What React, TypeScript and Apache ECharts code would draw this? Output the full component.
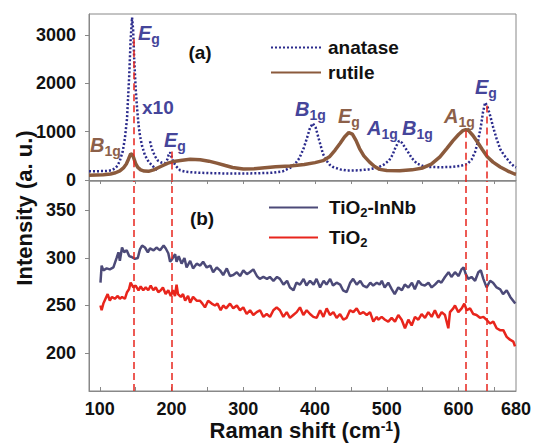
import React, { useEffect, useRef } from "react";
import * as echarts from "echarts";

const FONT = "'Liberation Sans', Arial, sans-serif";

// Top panel (a): Raman shift (cm-1) vs intensity
const anataseMain: number[][] = [[85,180],[95,182],[105,185],[112,190],[117,205],[121,240],[125,300],[128,400],[132,590],[135,860],[138,1270],[141,2150],[143,2900],[145,3360],[146.5,3100],[148,2500],[150,1900],[152,1480],[154,1150],[156,920],[159,700],[163,510],[168,380],[173,300],[177,240],[181,200]];
const anataseX10: number[][] = [[170,800],[172,680],[174,590],[177,490],[181,400],[186,360],[191,350],[194,420],[196,520],[198,570],[200,480],[202,390],[206,290],[212,200],[220,170],[228,160],[240,150],[260,140],[280,135],[300,135],[320,140],[340,150],[355,180],[365,250],[372,330],[378,450],[384,650],[389,880],[393,1080],[397,1170],[401,1080],[405,860],[408,700],[411,540],[416,400],[420,320],[425,270],[435,220],[445,195],[460,200],[475,220],[488,260],[496,320],[503,400],[508,520],[512,670],[517,810],[521,770],[525,680],[529,590],[535,450],[542,340],[550,290],[560,270],[575,265],[590,270],[602,290],[612,330],[618,420],[623,580],[627,800],[631,1100],[634,1400],[637,1600],[640,1530],[644,1330],[648,1100],[653,850],[658,640],[663,520],[668,430],[673,340],[678,275],[680,260]];
const rutile: number[][] = [[85,100],[95,105],[105,110],[115,125],[122,150],[128,190],[133,250],[137,330],[140,430],[143,540],[145,530],[147,470],[150,340],[153,260],[157,210],[162,185],[168,180],[175,210],[185,280],[195,350],[205,390],[215,410],[226,430],[240,420],[252,390],[263,350],[275,300],[285,260],[300,230],[315,235],[330,255],[345,275],[365,290],[385,320],[400,360],[411,400],[420,480],[428,620],[435,760],[441,890],[447,980],[452,950],[457,820],[462,650],[468,500],[476,370],[483,280],[490,220],[500,195],[518,190],[535,210],[550,250],[562,330],[574,480],[584,660],[592,810],[600,940],[606,1020],[610,1040],[614,1020],[620,920],[626,790],[633,630],[640,480],[648,370],[658,270],[668,190],[678,125],[680,120]];

// Bottom panel (b)
const tio2InNb: number[][] = [[101,274],[102.6,292],[105,287],[109.6,289],[114,288],[119,290],[123.5,300],[126,306],[128,297],[131,311],[134,306],[137.5,308],[141,302],[144.5,301],[149,299],[153,300],[156,309],[159,313],[163,311],[167,306],[170,310],[175,308],[179,311],[184,308],[189,313],[192,310],[195.5,305],[198,296],[201,299],[205,304],[207,296],[210,302],[214,294],[218,300],[221,290],[226,297],[230,289],[235,294],[240,292],[244,296],[249,290],[254,292],[258,285],[263,290],[267.5,287],[272,282],[277,289],[281.5,281],[286,282],[291,285],[295.5,281],[300,287],[305,283],[309,285],[314,288],[319,281],[323,278],[328,280],[333,278],[337,280],[342,276],[347,280],[351,278],[356,272],[361,276],[365,269],[370,266],[374,274],[379,272],[384,278],[388,271],[393,276],[398,272],[402,278],[407,269],[412,276],[416,272],[421,278],[425,271],[430,274],[435,272],[439,266],[444,264],[449,274],[453,278],[458,272],[463,276],[467,271],[472,269],[477,274],[481,271],[486,274],[490,272],[493,276],[497,269],[502,274],[507,267],[511,262],[516,269],[521,266],[525,272],[530,269],[535,274],[539,267],[544,276],[548.5,272],[553,271],[558,274],[562.5,269],[567,272],[572,276],[576,274],[581,280],[586,285],[590,280],[595,285],[600,281],[604,288],[607,290],[610,283],[613.5,278],[618,280],[623,276],[627.5,285],[631,287],[634.5,278],[639,269],[644,276],[648,274],[653,269],[658,267],[662,262],[667,266],[672,259],[676,255],[679,252]];
const tio2: number[][] = [[101,250],[102.6,245],[105,252],[108,257],[111,262],[114,255],[117,259],[121,257],[125,260],[128,257],[131,259],[135,257],[138,264],[140.7,267],[143,274],[146.8,269],[150,271],[154,266],[157,270],[160.6,266],[164,269],[167.6,266],[171,271],[174.6,266],[178,269],[181.6,264],[185,266],[188,269],[191.8,262],[195.5,266],[199,260],[202,266],[204.8,260],[207,272],[209,262],[213,259],[216,262],[219,255],[223,260],[226,253],[230,259],[235,255],[239.7,255],[243,252],[246.6,248],[251,255],[256,252],[260.5,250],[264,252],[268.5,245],[272,250],[276,247],[281.5,252],[286,247],[291,250],[295.4,245],[300,248],[304.7,241],[309.4,245],[314,240],[318.7,243],[323.3,245],[328,238],[332.6,241],[337.2,238],[341.9,245],[346.5,248],[351,245],[355.8,238],[360.5,243],[365,237],[369.7,240],[374.4,243],[379,248],[383.7,240],[388.3,245],[393,241],[397.6,238],[402.3,237],[407,245],[411.6,238],[416.2,247],[420.8,240],[425.5,243],[430.1,237],[434.8,241],[439.4,235],[444,237],[448.7,245],[453.3,243],[458,247],[462.6,241],[467.3,243],[472,240],[476.6,243],[481.2,233],[485.9,238],[488,235],[492.8,238],[497.4,235],[502,233],[506.7,237],[511.4,233],[516,240],[520.7,235],[525.3,226],[530,235],[534.6,229],[539.2,238],[543.9,235],[548.5,241],[553.2,237],[557.8,243],[562.5,238],[567,245],[571.7,237],[576.4,243],[581,240],[585.7,226],[588,243],[592.6,247],[595,250],[599.6,243],[604.3,247],[608,252],[611.3,245],[616,247],[620.5,241],[625,240],[629.8,237],[634.5,238],[639,235],[643.7,231],[648.4,233],[653,226],[657.7,224],[662.3,224],[667,217],[671.6,214],[676.3,212],[678.6,207]];

// Vertical dashed reference lines: [Raman shift, top value in panel (a)]
const dashedLines: number[][] = [[147, 2910], [200, 590], [610, 1020], [639, 1540]];

const xTickLabels = [100, 200, 300, 400, 500, 600, 680];
const xMinorTicks = [100, 150, 200, 250, 300, 350, 400, 450, 500, 550, 600, 650];
const yTicksTop = [0, 1000, 2000, 3000];
const yTicksBottom = [200, 250, 300, 350];

const NAVY = "#2b2b8c";
const NAVY_TXT = "#45459a";
const BROWN = "#8b5a3c";
const BROWN_TXT = "#8c6049";
const SLATE = "#4c4a78";
const RED = "#e8251c";
const AXIS = "#888888";

function peakLabel(x: number, y: number, main: string, sub: string, color: string) {
  return {
    type: "text",
    x,
    y,
    silent: true,
    style: {
      text: `{m|${main}}{s|${sub}}`,
      textAlign: "left",
      textVerticalAlign: "middle",
      verticalAlign: "middle",
      rich: {
        m: { fontSize: 20, fontWeight: "bold", fontStyle: "italic", fontFamily: FONT, fill: color },
        s: { fontSize: 14, fontWeight: "bold", fontFamily: FONT, fill: color, padding: [12, 0, 0, 0], verticalAlign: "bottom" },
      },
    },
  };
}

export default function App() {
  const ref = useRef<HTMLDivElement>(null);
  useEffect(() => {
    if (!ref.current) return;
    const chart = echarts.init(ref.current, undefined, { renderer: "svg" });
    const axisCommon = {
      axisLine: { show: true, lineStyle: { color: AXIS, width: 1 } },
      splitLine: { show: false },
    };
    const labelStyle = { fontSize: 18, fontWeight: "bold", color: "#111", fontFamily: FONT, formatter: (v: number) => String(v) };
    chart.setOption({
      animation: false,
      backgroundColor: "#ffffff",
      grid: [
        { left: 89, width: 427, top: 14, height: 167, show: true, borderColor: AXIS, borderWidth: 1, backgroundColor: "transparent" },
        { left: 89, width: 427, top: 181, height: 210, show: true, borderColor: AXIS, borderWidth: 1, backgroundColor: "transparent" },
      ],
      xAxis: [
        {
          type: "value", gridIndex: 0, min: 85, max: 680, ...axisCommon,
          axisLabel: { show: false },
          axisTick: { show: true, inside: false, length: 4, customValues: xMinorTicks, lineStyle: { color: AXIS } },
        },
        {
          type: "value", gridIndex: 1, min: 85, max: 680, ...axisCommon,
          axisLabel: { ...labelStyle, margin: 9, customValues: xTickLabels },
          axisTick: { show: true, inside: true, length: 4, customValues: xMinorTicks, lineStyle: { color: AXIS } },
        },
      ],
      yAxis: [
        {
          type: "value", gridIndex: 0, min: -20, max: 3430, ...axisCommon,
          axisLabel: { ...labelStyle, margin: 13, customValues: yTicksTop },
          axisTick: { show: true, inside: false, length: 4, customValues: yTicksTop, lineStyle: { color: AXIS } },
        },
        {
          type: "value", gridIndex: 1, min: 160, max: 381, ...axisCommon,
          axisLabel: { ...labelStyle, margin: 13, customValues: yTicksBottom },
          axisTick: { show: true, inside: false, length: 4, customValues: yTicksBottom, lineStyle: { color: AXIS } },
        },
      ],
      legend: [
        {
          data: ["anatase", "rutile"],
          orient: "vertical",
          left: 265,
          top: 33,
          itemWidth: 50,
          itemHeight: 14,
          itemGap: 6,
          itemStyle: { opacity: 0 },
          textStyle: { fontSize: 19, fontWeight: "bold", color: "#111", fontFamily: FONT, padding: [0, 0, 0, 2] },
        },
        {
          data: ["TiO2-InNb", "TiO2"],
          orient: "vertical",
          left: 263,
          top: 193,
          itemWidth: 49,
          itemHeight: 14,
          itemGap: 9,
          itemStyle: { opacity: 0 },
          formatter: (name: string) => name.replace("TiO2", "TiO{s|2}"),
          textStyle: {
            fontSize: 19, fontWeight: "bold", color: "#111", fontFamily: FONT, padding: [0, 0, 0, 6],
            rich: { s: { fontSize: 13, fontWeight: "bold", color: "#111", fontFamily: FONT, padding: [10, 0, 0, 0], verticalAlign: "bottom" } },
          },
        },
      ],
      series: [
        {
          name: "anatase", type: "line", xAxisIndex: 0, yAxisIndex: 0, data: anataseMain,
          symbol: "none", lineStyle: { color: NAVY, width: 2.5, type: [2, 2] }, itemStyle: { color: NAVY },
        },
        {
          name: "anatase", type: "line", xAxisIndex: 0, yAxisIndex: 0, data: anataseX10,
          symbol: "none", lineStyle: { color: NAVY, width: 2.5, type: [2, 2] }, itemStyle: { color: NAVY },
        },
        {
          name: "rutile", type: "line", xAxisIndex: 0, yAxisIndex: 0, data: rutile,
          symbol: "none", lineStyle: { color: BROWN, width: 3.5 }, itemStyle: { color: BROWN },
          markLine: {
            silent: true, symbol: "none", label: { show: false },
            lineStyle: { color: RED, width: 1.5, type: [7, 4] },
            data: dashedLines.map((d) => [{ coord: [d[0], d[1]] }, { coord: [d[0], -20] }]),
          },
        },
        {
          name: "TiO2-InNb", type: "line", xAxisIndex: 1, yAxisIndex: 1, data: tio2InNb,
          symbol: "none", lineStyle: { color: SLATE, width: 2.5 }, itemStyle: { color: SLATE },
        },
        {
          name: "TiO2", type: "line", xAxisIndex: 1, yAxisIndex: 1, data: tio2,
          symbol: "none", lineStyle: { color: RED, width: 2.5 }, itemStyle: { color: RED },
          markLine: {
            silent: true, symbol: "none", label: { show: false },
            lineStyle: { color: RED, width: 1.5, type: [7, 4] },
            data: dashedLines.map((d) => ({ xAxis: d[0] })),
          },
        },
      ],
      graphic: [
        peakLabel(138, 33, "E", "g", NAVY_TXT),
        { type: "text", x: 142, y: 107, silent: true, style: { text: "x10", fontSize: 19, fontWeight: "bold", fontFamily: FONT, fill: NAVY_TXT, textVerticalAlign: "middle", verticalAlign: "middle" } },
        peakLabel(90, 145, "B", "1g", BROWN_TXT),
        peakLabel(164, 140, "E", "g", NAVY_TXT),
        peakLabel(295, 108.5, "B", "1g", NAVY_TXT),
        peakLabel(338, 116, "E", "g", BROWN_TXT),
        peakLabel(367, 128, "A", "1g", NAVY_TXT),
        peakLabel(402, 128, "B", "1g", NAVY_TXT),
        peakLabel(444, 115.5, "A", "1g", BROWN_TXT),
        peakLabel(475, 87, "E", "g", NAVY_TXT),
        { type: "text", x: 200, y: 52, silent: true, style: { text: "(a)", fontSize: 19, fontWeight: "bold", fontFamily: FONT, fill: "#111", textAlign: "center", textVerticalAlign: "middle", verticalAlign: "middle" } },
        { type: "text", x: 202, y: 218, silent: true, style: { text: "(b)", fontSize: 19, fontWeight: "bold", fontFamily: FONT, fill: "#111", textAlign: "center", textVerticalAlign: "middle", verticalAlign: "middle" } },
        {
          type: "text", x: 24, y: 208, rotation: Math.PI / 2, silent: true,
          style: { text: "Intensity (a. u.)", fontSize: 22, fontWeight: "bold", fontFamily: FONT, fill: "#111", textAlign: "center", textVerticalAlign: "middle", verticalAlign: "middle" },
        },
        {
          type: "text", x: 305, y: 430, silent: true,
          style: {
            text: "{m|Raman shift (cm}{p|-1}{m|)}",
            textAlign: "center", textVerticalAlign: "middle", verticalAlign: "middle",
            rich: {
              m: { fontSize: 22, fontWeight: "bold", fontFamily: FONT, fill: "#111" },
              p: { fontSize: 14, fontWeight: "bold", fontFamily: FONT, fill: "#111", padding: [0, 0, 8, 0], verticalAlign: "top" },
            },
          },
        },
      ],
    });
    return () => chart.dispose();
  }, []);
  return <div ref={ref} style={{ position: "fixed", left: 0, top: 0, width: 540, height: 444 }} />;
}
